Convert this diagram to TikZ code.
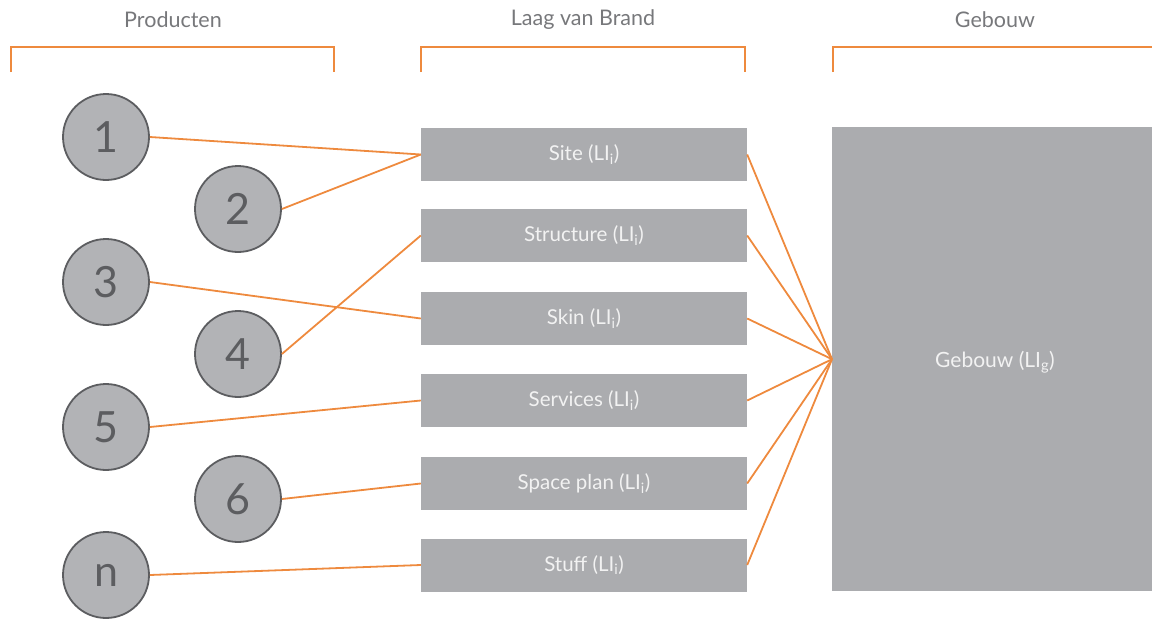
\documentclass[tikz,border=0pt]{standalone}
\usepackage{fontspec}
\setmainfont{Lato}
\definecolor{brandorange}{HTML}{EE8A3E}
\definecolor{boxgray}{HTML}{ABACAF}
\definecolor{circgray}{HTML}{B2B3B6}
\definecolor{rimgray}{HTML}{5C5D60}
\definecolor{headgray}{HTML}{77787B}
\definecolor{boxtext}{HTML}{F2F2F2}
\begin{document}
\begin{tikzpicture}[x=1pt,y=-1pt,
  link/.style={draw=brandorange,line width=1.8pt},
  bracket/.style={draw=brandorange,line width=1.8pt},
  header/.style={text=headgray,font=\fontsize{21.5}{21.5}\selectfont,anchor=center},
  product/.style={circle,draw=rimgray,fill=circgray,line width=1.8pt,minimum size=86pt,inner sep=0pt,text=rimgray,font=\fontsize{43}{43}\selectfont},
  layer/.style={rectangle,fill=boxgray,minimum width=326pt,minimum height=53pt,inner sep=0pt,text=boxtext,font=\fontsize{20.5}{20.5}\selectfont},
]
\useasboundingbox (0,0) rectangle (1152,619);

% column headers and brackets
\node[header] (hp) at (173,20) {Producten};
\node[header] (hl) at (583,20) {Laag van Brand};
\node[header] (hg) at (995,20) {Gebouw};
\draw[bracket] (11,72) -- (11,47) -- (334,47) -- (334,72);
\draw[bracket] (421,72) -- (421,47) -- (745,47) -- (745,72);
\draw[bracket] (833,72) -- (833,47) -- (1160,47);

% building
\node[rectangle,fill=boxgray,minimum width=324pt,minimum height=464pt,inner sep=0pt,anchor=north west] (g) at (832,127) {};
\node[text=boxtext,font=\fontsize{21}{21}\selectfont] (gl) at (995,362) {Gebouw (LI\textsubscript{g})};

% layers
\node[layer] (b1) at (584,154.5) {Site (LI\textsubscript{i})};
\node[layer] (b2) at (584,235.5) {Structure (LI\textsubscript{i})};
\node[layer] (b3) at (584,318.5) {Skin (LI\textsubscript{i})};
\node[layer] (b4) at (584,400.5) {Services (LI\textsubscript{i})};
\node[layer] (b5) at (584,483.5) {Space plan (LI\textsubscript{i})};
\node[layer] (b6) at (584,565) {Stuff (LI\textsubscript{i})};

% products
\node[product] (c1) at (106,137) {1};
\node[product] (c2) at (238,209) {2};
\node[product] (c3) at (106,282) {3};
\node[product] (c4) at (238,354) {4};
\node[product] (c5) at (106,427) {5};
\node[product] (c6) at (238,499) {6};
\node[product] (cn) at (106,575) {n};

% products to layers
\draw[link] (c1.east) -- (b1.west);
\draw[link] (c2.east) -- (b1.west);
\draw[link] (c3.east) -- (b3.west);
\draw[link] (c4.east) -- (b2.west);
\draw[link] (c5.east) -- (b4.west);
\draw[link] (c6.east) -- (b5.west);
\draw[link] (cn.east) -- (b6.west);

% layers to building
\foreach \b in {b1,b2,b3,b4,b5,b6}
  \draw[link] (\b.east) -- (g.west);
\end{tikzpicture}
\end{document}
